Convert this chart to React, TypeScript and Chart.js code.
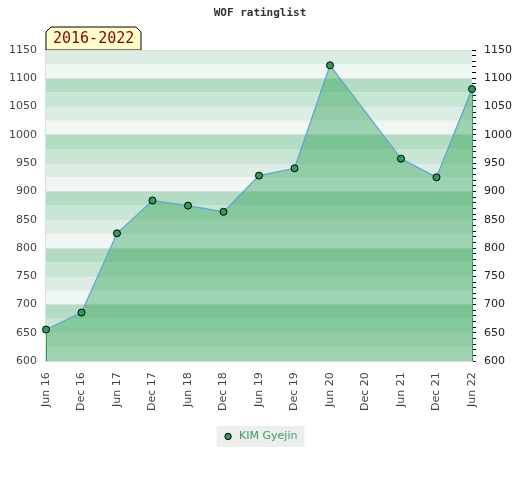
import React, { useEffect, useRef } from "react";
import { Chart, registerables } from "chart.js";

Chart.register(...registerables);

const categories = [
  "Jun 16", "Dec 16", "Jun 17", "Dec 17", "Jun 18", "Dec 18", "Jun 19",
  "Dec 19", "Jun 20", "Dec 20", "Jun 21", "Dec 21", "Jun 22",
];
const ratings: (number | null)[] = [
  656, 686, 826, 884, 875, 864, 928, 941, 1123, null, 958, 925, 1081,
];
const seriesName = "KIM Gyejin";
const chartTitle = "WOF ratinglist";
const periodLabel = "2016-2022";
const yMin = 600;
const yMax = 1150;

const bandColors: Record<number, string> = {
  0: "#b3dcc3",
  75: "#c7e6d3",
  50: "#dcede3",
  25: "#f0f7f3",
};

const decorPlugin = {
  id: "decor",
  beforeDraw(chart: any) {
    const { ctx, chartArea, scales } = chart;
    const y = scales.y;
    ctx.save();
    for (let v = yMin + 25; v <= yMax; v += 25) {
      const top = y.getPixelForValue(v);
      const bot = y.getPixelForValue(v - 25);
      ctx.fillStyle = bandColors[v % 100];
      ctx.fillRect(chartArea.left, top, chartArea.right - chartArea.left, bot - top);
    }
    // legend background
    const lg = chart.legend;
    if (lg && lg.legendHitBoxes && lg.legendHitBoxes.length) {
      const hb = lg.legendHitBoxes[0];
      ctx.fillStyle = "#eeeeee";
      ctx.fillRect(hb.left - 6, hb.top - 5, hb.width + 13, hb.height + 10);
    }
    // title
    ctx.fillStyle = "#333333";
    ctx.font = "bold 11px 'DejaVu Sans Mono'";
    ctx.textAlign = "center";
    ctx.textBaseline = "middle";
    ctx.fillText(chartTitle, chart.width / 2, 13);
    // period label box
    const bx = chartArea.left;
    const by = chartArea.top - 23;
    const bw = 95;
    const bh = 23;
    const c = 5;
    ctx.beginPath();
    ctx.moveTo(bx, by + bh);
    ctx.lineTo(bx, by + c);
    ctx.lineTo(bx + c, by);
    ctx.lineTo(bx + bw - c, by);
    ctx.lineTo(bx + bw, by + c);
    ctx.lineTo(bx + bw, by + bh);
    ctx.closePath();
    ctx.fillStyle = "#ffffcc";
    ctx.fill();
    ctx.strokeStyle = "#000000";
    ctx.lineWidth = 1;
    ctx.stroke();
    ctx.fillStyle = "#8b0000";
    ctx.font = "15px 'DejaVu Sans Mono'";
    ctx.textAlign = "left";
    ctx.fillText(periodLabel, bx + 7, by + bh / 2 + 1);
    ctx.restore();
  },
  afterDatasetsDraw(chart: any) {
    const { ctx, chartArea } = chart;
    const meta = chart.getDatasetMeta(0);
    const pts = meta.data;
    const ends = [pts[0], pts[pts.length - 1]];
    ctx.save();
    ctx.strokeStyle = "#2ea05a";
    ctx.lineWidth = 1;
    for (const p of ends) {
      if (!p) continue;
      ctx.beginPath();
      ctx.moveTo(Math.round(p.x) + 0.5, p.y + 4);
      ctx.lineTo(Math.round(p.x) + 0.5, chartArea.bottom);
      ctx.stroke();
    }
    ctx.restore();
  },
};

export default function App() {
  const ref = useRef<HTMLCanvasElement>(null);
  useEffect(() => {
    document.body.style.margin = "0";
    const chart = new Chart(ref.current!, {
      type: "line",
      data: {
        labels: categories,
        datasets: [
          {
            label: seriesName,
            data: ratings,
            spanGaps: true,
            borderColor: "#5aa5d8",
            borderWidth: 1.2,
            backgroundColor: "rgba(36,157,77,0.4)",
            fill: "start",
            pointBackgroundColor: "#2e9e5a",
            pointBorderColor: "#000000",
            pointBorderWidth: 1,
            pointRadius: 3.5,
            tension: 0,
          },
        ],
      },
      options: {
        animation: false,
        responsive: false,
        layout: { padding: { top: 50, bottom: 28, left: 0, right: 0 } },
        plugins: {
          title: { display: false },
          tooltip: { enabled: false },
          legend: {
            position: "bottom",
            labels: {
              usePointStyle: true,
              pointStyle: "circle",
              boxWidth: 11,
              boxHeight: 4.5,
              color: "#3aa060",
              font: { family: "'DejaVu Sans'", size: 11 },
              padding: 17,
              generateLabels: (ch: any) =>
                ch.data.datasets.map((ds: any, i: number) => ({
                  text: ds.label,
                  fillStyle: "#2e9e5a",
                  strokeStyle: "#000000",
                  lineWidth: 1,
                  pointStyle: "circle",
                  fontColor: "#3aa060",
                  datasetIndex: i,
                })),
            },
          },
        },
        scales: {
          x: {
            type: "category",
            offset: false,
            grid: { display: false },
            border: { color: "#dddddd" },
            ticks: {
              minRotation: 90,
              maxRotation: 90,
              autoSkip: false,
              color: "#444444",
              font: { family: "'DejaVu Sans'", size: 11 },
              padding: 3,
            },
          },
          y: {
            position: "left",
            min: yMin,
            max: yMax,
            grid: { color: "#dddddd", tickLength: 0 },
            border: { color: "#dddddd" },
            ticks: {
              stepSize: 50,
              color: "#444444",
              font: { family: "'DejaVu Sans'", size: 11 },
              padding: 9,
              callback: (v: any) => String(v),
            },
          },
          y2: {
            position: "right",
            min: yMin,
            max: yMax,
            grid: { drawOnChartArea: false, color: "#000000", tickLength: 4 },
            border: { display: false },
            ticks: {
              stepSize: 10,
              autoSkip: false,
              color: "#222222",
              font: { family: "'DejaVu Sans'", size: 11 },
              padding: 8,
              callback: (v: any) => (Number(v) % 50 === 0 ? String(v) : ""),
            },
          },
        },
      },
      plugins: [decorPlugin],
    } as any);
    return () => chart.destroy();
  }, []);
  return <canvas ref={ref} width={520} height={480} style={{ display: "block" }} />;
}
